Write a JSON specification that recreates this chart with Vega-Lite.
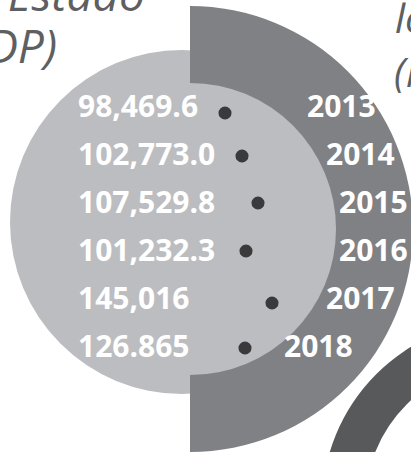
{
  "$schema": "https://vega.github.io/schema/vega-lite/v6.json",
  "width": 411,
  "height": 452,
  "autosize": {"type": "fit", "contains": "padding"},
  "padding": 0,
  "background": "white",
  "config": {"view": {"stroke": null}},
  "datasets": {
    "shapes": [
      {"shape": "left", "cx": 182, "cy": 222, "r": 172, "r0": 0},
      {"shape": "half", "cx": 190, "cy": 229, "r": 223, "r0": 0},
      {"shape": "inner", "cx": 190, "cy": 229, "r": 146, "r0": 0},
      {"shape": "ring", "cx": 507, "cy": 505, "r": 185, "r0": 142}
    ],
    "rows": [
      {"year": 2013, "value": "98,469.6", "dotX": 225, "dotY": 113, "labelX": 307},
      {"year": 2014, "value": "102,773.0", "dotX": 242, "dotY": 156, "labelX": 326},
      {"year": 2015, "value": "107,529.8", "dotX": 258, "dotY": 203, "labelX": 339},
      {"year": 2016, "value": "101,232.3", "dotX": 246, "dotY": 251, "labelX": 339},
      {"year": 2017, "value": "145,016", "dotX": 272, "dotY": 303, "labelX": 326},
      {"year": 2018, "value": "126.865", "dotX": 245, "dotY": 348, "labelX": 284}
    ],
    "titles": [
      {"t": "Estado", "tx": 145, "ty": 11, "side": "left"},
      {"t": "(MDP)", "tx": 57, "ty": 63, "side": "left"},
      {"t": "lo", "tx": 395, "ty": 33, "side": "right"},
      {"t": "(MDP)", "tx": 394, "ty": 87, "side": "right"}
    ]
  },
  "resolve": {"scale": {"y": "independent", "x": "shared", "radius": "shared"}},
  "layer": [
    {
      "data": {"name": "shapes"},
      "transform": [{"filter": "datum.shape === 'left'"}],
      "mark": {"type": "arc", "color": "#bcbdc0", "theta": 0, "theta2": 6.2832, "clip": true},
      "encoding": {
        "x": {"field": "cx", "type": "quantitative", "axis": null, "scale": {"domain": [0, 411], "nice": false, "zero": false}},
        "y": {"field": "cy", "type": "quantitative", "axis": null, "scale": {"domain": [0, 452], "nice": false, "zero": false, "reverse": true}},
        "radius": {"field": "r", "type": "quantitative", "scale": {"type": "linear", "domain": [0, 411], "range": [0, 411]}},
        "radius2": {"field": "r0"}
      }
    },
    {
      "data": {"name": "shapes"},
      "transform": [{"filter": "datum.shape === 'half'"}],
      "mark": {"type": "arc", "color": "#808184", "theta": 0, "theta2": 3.14159, "clip": true},
      "encoding": {
        "x": {"field": "cx", "type": "quantitative", "axis": null, "scale": {"domain": [0, 411], "nice": false, "zero": false}},
        "y": {"field": "cy", "type": "quantitative", "axis": null, "scale": {"domain": [0, 452], "nice": false, "zero": false, "reverse": true}},
        "radius": {"field": "r", "type": "quantitative", "scale": {"type": "linear", "domain": [0, 411], "range": [0, 411]}},
        "radius2": {"field": "r0"}
      }
    },
    {
      "data": {"name": "shapes"},
      "transform": [{"filter": "datum.shape === 'inner'"}],
      "mark": {"type": "arc", "color": "#bcbdc0", "theta": 0, "theta2": 3.14159, "clip": true},
      "encoding": {
        "x": {"field": "cx", "type": "quantitative", "axis": null, "scale": {"domain": [0, 411], "nice": false, "zero": false}},
        "y": {"field": "cy", "type": "quantitative", "axis": null, "scale": {"domain": [0, 452], "nice": false, "zero": false, "reverse": true}},
        "radius": {"field": "r", "type": "quantitative", "scale": {"type": "linear", "domain": [0, 411], "range": [0, 411]}},
        "radius2": {"field": "r0"}
      }
    },
    {
      "data": {"name": "shapes"},
      "transform": [{"filter": "datum.shape === 'ring'"}],
      "mark": {"type": "arc", "color": "#58595b", "theta": 0, "theta2": 6.2832, "clip": true},
      "encoding": {
        "x": {"field": "cx", "type": "quantitative", "axis": null, "scale": {"domain": [0, 411], "nice": false, "zero": false}},
        "y": {"field": "cy", "type": "quantitative", "axis": null, "scale": {"domain": [0, 452], "nice": false, "zero": false, "reverse": true}},
        "radius": {"field": "r", "type": "quantitative", "scale": {"type": "linear", "domain": [0, 411], "range": [0, 411]}},
        "radius2": {"field": "r0"}
      }
    },
    {
      "data": {"name": "rows"},
      "mark": {"type": "circle", "color": "#3a3a3c", "opacity": 1, "size": 170, "clip": true},
      "encoding": {
        "x": {"field": "dotX", "type": "quantitative", "axis": null, "scale": {"domain": [0, 411], "nice": false, "zero": false}},
        "y": {"field": "dotY", "type": "quantitative", "axis": null, "scale": {"domain": [0, 452], "nice": false, "zero": false, "reverse": true}}
      }
    },
    {
      "data": {"name": "rows"},
      "mark": {"type": "text", "color": "white", "font": "Open Sans", "fontWeight": "bold", "fontSize": 30, "align": "left", "baseline": "alphabetic", "clip": true},
      "encoding": {
        "x": {"datum": 78, "type": "quantitative", "axis": null, "scale": {"domain": [0, 411], "nice": false, "zero": false}},
        "y": {"field": "year", "type": "quantitative", "axis": null, "scale": {"domain": [2010.5625, 2019.9792], "nice": false, "zero": false, "reverse": true}},
        "text": {"field": "value"}
      }
    },
    {
      "data": {"name": "rows"},
      "mark": {"type": "text", "color": "white", "font": "Open Sans", "fontWeight": "bold", "fontSize": 30, "align": "left", "baseline": "alphabetic", "clip": true},
      "encoding": {
        "x": {"field": "labelX", "type": "quantitative", "axis": null, "scale": {"domain": [0, 411], "nice": false, "zero": false}},
        "y": {"field": "year", "type": "quantitative", "axis": null, "scale": {"domain": [2010.5625, 2019.9792], "nice": false, "zero": false, "reverse": true}},
        "text": {"field": "year", "type": "nominal"}
      }
    },
    {
      "data": {"name": "titles"},
      "transform": [{"filter": "datum.side === 'left'"}],
      "mark": {"type": "text", "color": "#5e5f62", "font": "Open Sans", "fontStyle": "italic", "fontSize": 46, "align": "right", "baseline": "alphabetic", "clip": true},
      "encoding": {
        "x": {"field": "tx", "type": "quantitative", "axis": null, "scale": {"domain": [0, 411], "nice": false, "zero": false}},
        "y": {"field": "ty", "type": "quantitative", "axis": null, "scale": {"domain": [0, 452], "nice": false, "zero": false, "reverse": true}},
        "text": {"field": "t"}
      }
    },
    {
      "data": {"name": "titles"},
      "transform": [{"filter": "datum.side === 'right'"}],
      "mark": {"type": "text", "color": "#5e5f62", "font": "Open Sans", "fontStyle": "italic", "fontSize": 40, "align": "left", "baseline": "alphabetic", "clip": true},
      "encoding": {
        "x": {"field": "tx", "type": "quantitative", "axis": null, "scale": {"domain": [0, 411], "nice": false, "zero": false}},
        "y": {"field": "ty", "type": "quantitative", "axis": null, "scale": {"domain": [0, 452], "nice": false, "zero": false, "reverse": true}},
        "text": {"field": "t"}
      }
    }
  ]
}
